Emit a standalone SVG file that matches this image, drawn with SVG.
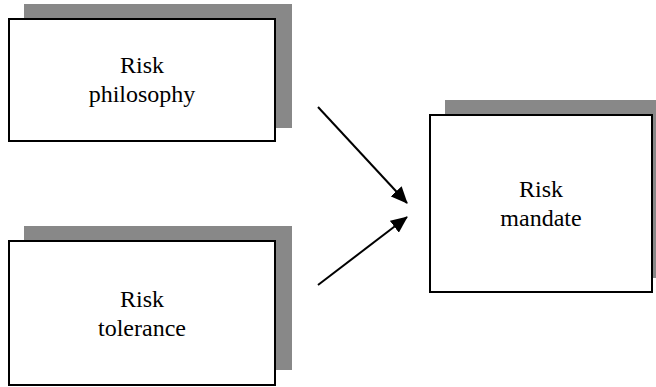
<svg xmlns="http://www.w3.org/2000/svg" width="656" height="387" viewBox="0 0 656 387">
  <style>
    .shadow { fill: #888888; }
    .box { fill: #ffffff; stroke: #000000; stroke-width: 2; }
    .label { font-family: "Liberation Serif", "Times New Roman", "DejaVu Serif", serif; font-size: 24px; fill: #000000; text-anchor: middle; }
    .conn { stroke: #000000; stroke-width: 2; fill: none; marker-end: url(#arrow); }
  </style>
  <defs>
    <marker id="arrow" markerWidth="17" markerHeight="15" refX="16" refY="7.5" orient="auto" markerUnits="userSpaceOnUse" viewBox="0 0 17 15">
      <path d="M0,0 L17,7.5 L0,15 Z" fill="#000000"/>
    </marker>
  </defs>
  <rect width="656" height="387" fill="#ffffff"/>

  <g id="node-philosophy">
    <rect class="shadow" x="24" y="4" width="268" height="124"/>
    <rect class="box" x="9" y="19" width="266" height="122"/>
    <text class="label" x="142" y="73">Risk</text>
    <text class="label" x="142" y="102">philosophy</text>
  </g>

  <g id="node-tolerance">
    <rect class="shadow" x="24" y="226" width="268" height="144"/>
    <rect class="box" x="9" y="241" width="266" height="144"/>
    <text class="label" x="142" y="307">Risk</text>
    <text class="label" x="142" y="336">tolerance</text>
  </g>

  <g id="node-mandate">
    <rect class="shadow" x="445" y="100" width="211" height="178"/>
    <rect class="box" x="430" y="115" width="222" height="177"/>
    <text class="label" x="541" y="197">Risk</text>
    <text class="label" x="541" y="226">mandate</text>
  </g>

  <g id="connectors">
    <line class="conn" x1="318" y1="107" x2="407" y2="203"/>
    <line class="conn" x1="318" y1="285" x2="407" y2="217"/>
  </g>
</svg>
